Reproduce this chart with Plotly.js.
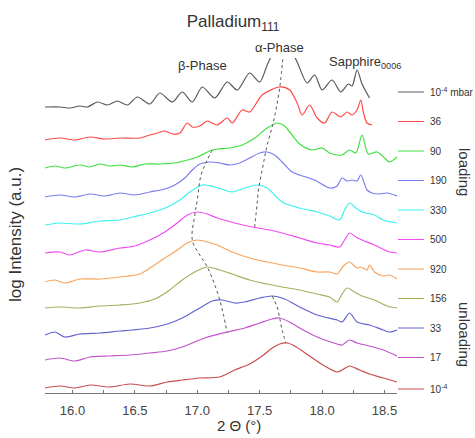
<!DOCTYPE html>
<html>
<head>
<meta charset="utf-8">
<script src="https://cdn.plot.ly/plotly-3.0.1.min.js"></script>
<style>html,body{margin:0;padding:0;background:#fff;}#chart{width:475px;height:438px;}</style>
</head>
<body>
<div id="chart"></div>
<script>
// Pressure labels (mbar), top to bottom
const seriesLabels = ['10<sup>-4</sup> mbar','36','90','190','330','500','920','156','33','17','10<sup>-4</sup>'];

// 2θ (deg) and offset log intensity (a.u.) for each scan
const x_load_1e4 = [15.78,15.90,15.98,16.06,16.12,16.20,16.28,16.36,16.44,16.52,16.62,16.70,16.80,16.88,16.96,17.04,17.14,17.24,17.32,17.42,17.50,17.56,17.62,17.68,17.74,17.80,17.88,17.94,18.00,18.08,18.15,18.21,18.24,18.28,18.32,18.38];
const y_load_1e4 = [28.6,28.6,28.5,28.7,28.6,29.1,28.8,29.2,28.8,29.6,28.9,30.0,29.1,30.1,29.1,30.6,29.5,31.1,30.3,32.0,31.1,32.8,34.3,35.1,34.5,33.1,31.0,31.8,30.3,31.3,30.1,30.9,30.7,32.3,30.9,29.5];

const x_load_36 = [15.78,15.90,16.02,16.14,16.26,16.38,16.54,16.62,16.68,16.74,16.80,16.86,16.92,16.96,17.02,17.08,17.16,17.24,17.28,17.36,17.42,17.52,17.66,17.74,17.80,17.84,17.90,17.96,18.02,18.08,18.15,18.20,18.24,18.28,18.31,18.33,18.36,18.40];
const y_load_36 = [25.3,25.5,25.3,25.6,25.4,25.5,25.5,25.8,26.0,26.2,25.9,26.0,27.0,26.6,26.7,27.2,26.8,27.5,27.0,28.3,28.1,29.8,30.6,30.3,29.0,27.8,28.8,27.5,27.0,28.1,27.6,28.1,27.8,28.3,29.3,28.1,27.0,26.8];

const x_load_90 = [15.78,15.86,15.94,16.06,16.14,16.22,16.30,16.38,16.48,16.58,16.70,16.86,17.00,17.12,17.26,17.36,17.46,17.56,17.64,17.70,17.74,17.82,17.92,18.00,18.06,18.12,18.16,18.22,18.27,18.32,18.37,18.44,18.50,18.54,18.60];
const y_load_90 = [22.5,22.7,22.5,22.8,22.6,22.9,22.7,22.8,22.6,22.9,22.9,23.1,23.6,24.3,24.5,24.8,25.5,26.5,27.0,26.7,26.1,24.9,24.3,24.5,24.0,23.8,23.8,24.3,24.0,25.8,23.9,24.1,23.5,23.1,23.6];

const x_load_190 = [15.78,15.90,16.02,16.14,16.26,16.38,16.50,16.62,16.74,16.82,16.90,16.96,17.02,17.10,17.18,17.26,17.34,17.42,17.50,17.56,17.62,17.68,17.76,17.82,17.94,18.06,18.12,18.16,18.20,18.24,18.28,18.31,18.36,18.40,18.46,18.52,18.60];
const y_load_190 = [19.6,19.8,19.6,19.9,19.7,20.0,19.8,20.1,20.4,20.8,21.5,22.3,22.9,23.1,23.0,22.8,23.0,23.5,24.0,24.1,23.8,23.1,22.1,21.8,21.3,20.5,20.7,21.5,21.2,21.3,21.2,21.8,20.3,20.0,19.9,20.0,19.7];

const x_load_330 = [15.78,15.90,16.06,16.22,16.38,16.48,16.62,16.76,16.86,16.94,17.04,17.14,17.28,17.38,17.48,17.56,17.68,17.82,17.96,18.06,18.14,18.18,18.22,18.27,18.32,18.42,18.49,18.60];
const y_load_330 = [16.8,17.0,16.9,17.2,17.3,17.6,18.0,18.6,19.3,20.1,20.8,20.6,20.1,20.5,20.8,20.5,19.1,18.5,18.1,17.7,17.3,18.3,19.0,18.5,18.1,17.8,17.3,17.0];

const x_load_500 = [15.78,15.90,15.98,16.10,16.22,16.38,16.50,16.62,16.74,16.84,16.92,17.00,17.08,17.16,17.30,17.44,17.58,17.68,17.82,17.96,18.06,18.14,18.18,18.22,18.27,18.32,18.42,18.54,18.60];
const y_load_500 = [14.0,14.1,13.8,14.3,14.1,14.5,14.7,15.3,16.1,17.0,17.8,18.1,17.9,17.5,17.0,16.6,16.3,16.0,15.5,15.0,14.8,14.6,15.3,16.0,15.6,15.3,14.8,14.1,14.0];

const x_load_920 = [15.78,15.86,15.94,16.06,16.22,16.38,16.54,16.62,16.74,16.84,16.92,17.00,17.08,17.16,17.28,17.42,17.56,17.68,17.82,17.96,18.06,18.12,18.17,18.22,18.28,18.31,18.36,18.38,18.42,18.49,18.54,18.60];
const y_load_920 = [11.1,11.3,11.0,11.4,11.4,11.6,11.9,12.5,13.5,14.3,15.0,15.3,15.1,14.8,14.1,13.5,13.1,12.8,12.5,12.1,12.1,11.9,12.7,13.1,12.5,12.6,12.3,12.8,12.1,11.7,11.8,11.4];

const x_unload_156 = [15.78,15.90,16.06,16.22,16.38,16.54,16.66,16.78,16.88,16.98,17.08,17.18,17.28,17.42,17.56,17.68,17.82,17.96,18.06,18.12,18.16,18.20,18.26,18.32,18.42,18.52,18.60];
const y_unload_156 = [8.5,8.6,8.5,8.7,8.8,9.0,9.4,10.3,11.3,12.1,12.6,12.3,11.9,11.3,10.9,10.6,10.3,9.9,9.6,9.1,9.9,10.5,10.1,9.7,9.3,8.7,8.5];

const x_unload_33 = [15.78,15.86,15.94,16.06,16.22,16.38,16.48,16.62,16.76,16.88,17.02,17.12,17.20,17.30,17.38,17.50,17.60,17.70,17.82,17.96,18.12,18.16,18.22,18.28,18.38,18.49,18.54,18.60];
const y_unload_33 = [5.8,6.1,5.6,5.9,6.0,6.2,6.3,6.5,6.9,7.5,8.5,9.2,9.3,9.0,9.1,9.5,9.7,9.4,8.6,7.8,7.3,7.1,8.0,7.1,6.8,6.3,6.1,6.3];

const x_unload_17 = [15.78,15.90,16.02,16.14,16.30,16.46,16.62,16.76,16.88,17.06,17.24,17.38,17.50,17.60,17.66,17.74,17.82,17.96,18.12,18.16,18.22,18.28,18.38,18.49,18.60];
const y_unload_17 = [3.3,3.5,3.2,3.6,3.7,3.8,4.0,4.2,4.6,5.5,6.1,6.5,7.0,7.4,7.5,7.1,6.5,5.6,4.9,4.8,5.3,5.0,4.7,4.3,3.7];

const x_unload_1e4 = [15.78,15.90,16.02,16.14,16.30,16.46,16.62,16.76,16.88,17.02,17.18,17.30,17.42,17.52,17.60,17.66,17.72,17.78,17.90,18.02,18.12,18.16,18.22,18.30,18.38,18.49,18.60];
const y_unload_1e4 = [0.5,0.7,0.5,0.8,0.6,0.9,0.7,1.1,1.3,1.5,1.6,2.3,2.9,3.7,4.5,4.9,5.0,4.7,3.7,2.7,2.1,2.3,2.7,2.3,1.9,1.5,1.1];

// Peak-position guide lines
const x_guideBeta = [17.12,17.08,17.03,17.00,16.98,16.96,17.02,17.08,17.14,17.18,17.21,17.24];
const y_guideBeta = [24.3,23.3,21.8,19.3,17.8,15.3,13.8,12.6,10.8,9.3,7.8,6.0];
const x_guideAlphaLoad = [17.69,17.66,17.63,17.60,17.56,17.54,17.52,17.49,17.48,17.47,17.46];
const y_guideAlphaLoad = [34.0,30.5,28.3,26.6,24.8,23.6,22.3,20.3,19.0,17.8,16.6];
const x_guideAlphaUnload = [17.60,17.64,17.66,17.68,17.71];
const y_guideAlphaUnload = [9.7,8.6,7.5,6.3,5.0];

const xs = [x_load_1e4,x_load_36,x_load_90,x_load_190,x_load_330,x_load_500,x_load_920,x_unload_156,x_unload_33,x_unload_17,x_unload_1e4];
const ys = [y_load_1e4,y_load_36,y_load_90,y_load_190,y_load_330,y_load_500,y_load_920,y_unload_156,y_unload_33,y_unload_17,y_unload_1e4];
const colors = ['#5a5a5a','#ff4a4a','#3ee03e','#7c7cf2','#3ef0f0','#f04cf0','#f8a45c','#a6b060','#6464d2','#c254cc','#c84e4e'];

const FONT = 'Liberation Sans, Arial, sans-serif';
const traces = [];
xs.forEach((x, i) => {
  traces.push({x: x, y: ys[i], type: 'scatter', mode: 'lines', name: seriesLabels[i],
    line: {color: colors[i], width: 1.2, shape: 'spline', smoothing: 0.8}, showlegend: false, hoverinfo: 'skip'});
});
[[x_guideBeta, y_guideBeta],[x_guideAlphaLoad, y_guideAlphaLoad],[x_guideAlphaUnload, y_guideAlphaUnload]].forEach(g => {
  traces.push({x: g[0], y: g[1], type: 'scatter', mode: 'lines',
    line: {color: '#555', width: 1, dash: 'dot', shape: 'spline'}, showlegend: false, hoverinfo: 'skip'});
});

// plot area geometry (px)
const W = 475, H = 438, L = 45, R = 78, T = 58, B = 45;
const pw = W - L - R, ph = H - T - B;
const px2paperX = p => (p - L) / pw;
const px2paperY = p => (H - B - p) / ph;

// white mask above the plot area (curves there are hidden in the reference)
const shapes = [{type: 'rect', xref: 'paper', yref: 'paper', x0: -0.2, x1: 1.0, y0: 1.0, y1: 1.3, layer: 'above',
  fillcolor: '#fff', line: {width: 0}}];
const annotations = [];
const txt = (px, py, text, size, extra) => Object.assign({xref: 'paper', yref: 'paper', x: px2paperX(px), y: px2paperY(py),
  xanchor: 'center', yanchor: 'middle', text: text, showarrow: false, font: {family: FONT, size: size, color: '#333'}}, extra || {});

seriesLabels.forEach((lab, i) => {
  const py = 92 + i * 29.5 + (i === 10 ? 2 : 0);
  shapes.push({type: 'line', xref: 'paper', yref: 'paper', x0: px2paperX(398), x1: px2paperX(424),
    y0: px2paperY(py), y1: px2paperY(py), line: {color: colors[i], width: 1}});
  annotations.push(txt(428, py, lab, 10, {xanchor: 'left'}));
});
annotations.push(
  txt(465, 172, 'loading', 15, {textangle: 90}),
  txt(465, 334, 'unloading', 15, {textangle: 90}),
  txt(202, 65, '\u03b2-Phase', 13),
  txt(279, 47, '\u03b1-Phase', 13),
  txt(327, 62, 'Sapphire<sub>0006</sub>', 13, {xanchor: 'left'}),
  txt(239, 425, '2 \u0398 (\u00b0)', 15),
  txt(15, 235, 'log Intensity (a.u.)', 17, {textangle: -90})
);

const layout = {
  width: W, height: H, autosize: false,
  margin: {l: L, r: R, t: T, b: B, pad: 0},
  paper_bgcolor: '#fff', plot_bgcolor: '#fff',
  title: {text: 'Palladium<sub>111</sub>', x: 233 / W, xanchor: 'center', y: 1 - 21 / H, yanchor: 'middle',
    font: {family: FONT, size: 17, color: '#333'}},
  xaxis: {range: [15.78, 18.60], showgrid: false, zeroline: false, showline: true, linecolor: '#777', linewidth: 1,
    ticks: 'inside', ticklen: 3, tickcolor: '#777', tick0: 16, dtick: 0.5, tickformat: '.1f',
    minor: {ticks: 'inside', ticklen: 3, dtick: 0.25, tickcolor: '#777'},
    tickfont: {family: FONT, size: 13, color: '#444'}, ticklabelstandoff: 5},
  yaxis: {range: [0, 33.5], showgrid: false, zeroline: false, showline: false, showticklabels: false, ticks: ''},
  shapes: shapes, annotations: annotations, showlegend: false
};
Plotly.newPlot('chart', traces, layout, {staticPlot: true, displayModeBar: false});
</script>
</body>
</html>
